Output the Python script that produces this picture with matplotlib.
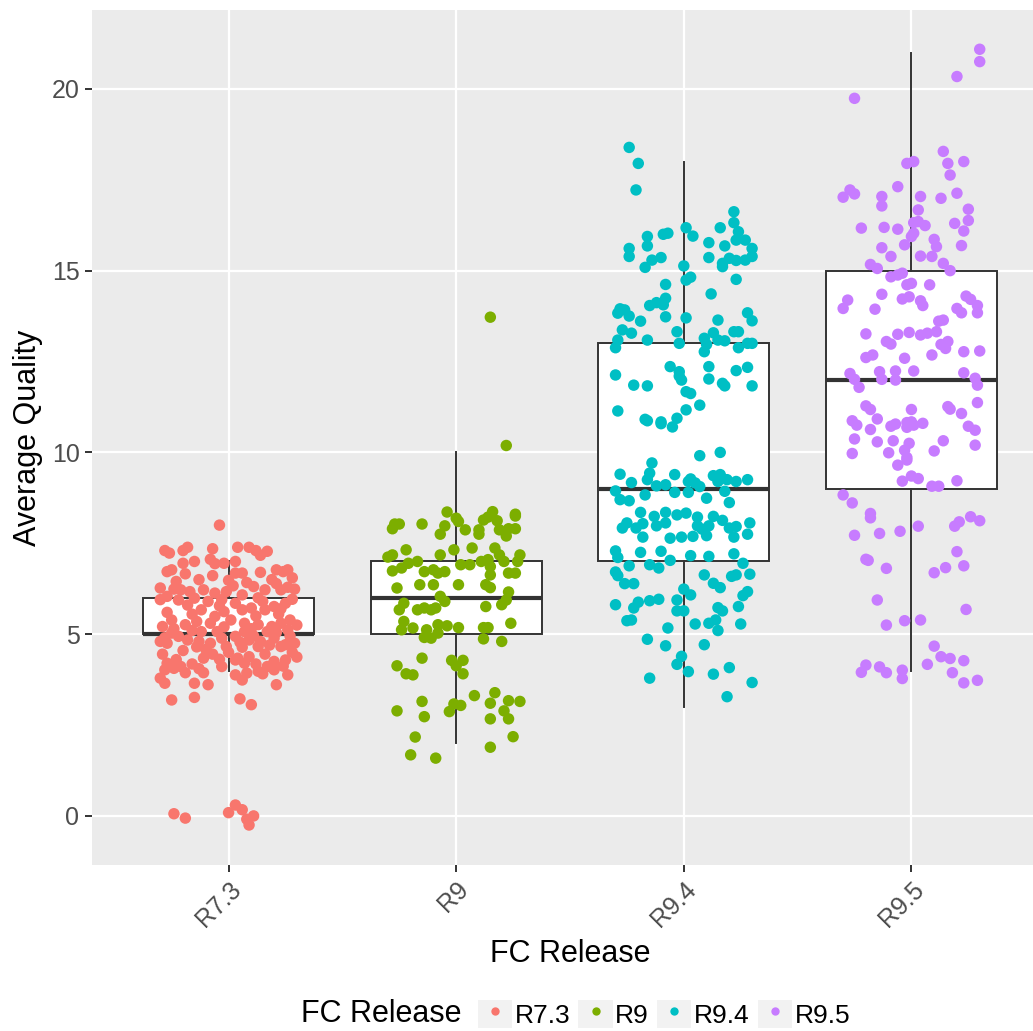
import numpy as np
import matplotlib
matplotlib.use("Agg")
from matplotlib import pyplot as plt
from matplotlib.patches import Rectangle
from matplotlib.lines import Line2D
from matplotlib.legend_handler import HandlerTuple

plt.rcParams["font.family"] = ["Liberation Sans", "DejaVu Sans"]

releases = ["R7.3", "R9", "R9.4", "R9.5"]
colors = ["#F8766D", "#7CAE00", "#00BFC4", "#C77CFF"]

# box statistics per release: lower whisker, Q1, median, Q3, upper whisker
whis_lo = [4, 2, 3, 4]
q1 = [5, 5, 7, 9]
median = [5, 6, 9, 12]
q3 = [6, 7, 13, 15]
whis_hi = [7, 10, 18, 21]

# jittered points: (horizontal jitter, average quality)
r73_points = [
    (-0.04, 8.00), (-0.28, 7.30), (-0.26, 7.23), (-0.20, 7.30), (-0.18, 7.39), (-0.07, 7.35),
    (0.04, 7.39), (0.09, 7.39), (0.12, 7.30), (0.14, 7.17), (0.17, 7.28),
    (-0.20, 6.95), (-0.15, 7.00), (-0.08, 7.06), (-0.06, 6.94), (-0.02, 6.95), (0.03, 7.00),
    (-0.27, 6.72), (-0.25, 6.77), (-0.19, 6.66), (-0.07, 6.61), (0.03, 6.68), (0.06, 6.68),
    (0.14, 6.70), (0.21, 6.77), (0.24, 6.72), (0.26, 6.77),
    (-0.23, 6.45), (-0.13, 6.50), (0.00, 6.48), (0.08, 6.42), (0.19, 6.50), (0.28, 6.55),
    (-0.30, 6.27), (-0.24, 6.24), (-0.21, 6.22), (-0.17, 6.17), (-0.11, 6.22), (-0.06, 6.13),
    (-0.01, 6.17), (0.02, 6.33), (0.06, 6.08), (0.11, 6.31), (0.16, 6.22), (0.21, 6.39),
    (0.23, 6.22), (0.26, 6.29), (0.29, 6.24),
    (-0.27, 6.04), (-0.22, 5.94), (-0.15, 5.99), (-0.09, 5.90), (-0.02, 5.62), (0.06, 5.67),
    (0.10, 5.72), (0.16, 5.67), (0.20, 5.76), (0.25, 5.85), (0.28, 5.96), (-0.12, 5.67), (-0.06, 5.49),
    (-0.16, 5.55), (0.12, 5.50), (-0.27, 5.60), (0.22, 5.55), (-0.03, 5.95), (0.13, 6.00),
    (-0.30, 5.95), (-0.18, 5.80), (-0.04, 5.78), (0.03, 5.85), (0.15, 5.90), (0.23, 5.70),
    (-0.29, 5.21), (-0.25, 5.39), (-0.19, 5.26), (-0.14, 5.35), (-0.08, 5.30), (0.01, 5.39),
    (0.07, 5.30), (0.13, 5.26), (0.19, 5.21), (0.23, 5.30), (0.27, 5.39),
    (-0.24, 5.15), (-0.16, 5.10), (-0.02, 5.20), (0.10, 5.15), (0.21, 5.05), (0.30, 5.25),
    (-0.30, 4.80), (-0.27, 4.75), (-0.22, 4.94), (-0.18, 4.84), (-0.13, 4.80), (-0.08, 4.75),
    (-0.03, 4.89), (0.03, 4.94), (0.09, 4.84), (0.14, 4.80), (0.20, 4.89), (0.25, 4.71), (0.29, 4.75),
    (-0.25, 5.03), (-0.12, 5.07), (-0.05, 5.07), (0.07, 5.07), (0.17, 5.07), (0.26, 5.12),
    (-0.01, 4.66), (0.06, 4.64), (0.13, 4.66), (0.23, 4.66),
    (-0.28, 4.90), (-0.14, 4.65), (0.05, 4.78), (0.11, 4.95), (0.18, 4.70), (0.27, 4.95),
    (-0.20, 4.55), (0.00, 4.50), (0.16, 4.45), (-0.10, 4.58), (0.28, 4.50), (-0.29, 4.45),
    (-0.27, 4.20), (-0.21, 4.11), (-0.16, 4.18), (-0.11, 4.34), (-0.04, 4.31), (0.03, 4.29),
    (0.07, 4.20), (0.12, 4.18), (0.17, 4.11), (0.20, 4.25), (0.25, 4.29), (0.30, 4.37),
    (-0.03, 4.11), (0.04, 4.34),
    (-0.23, 4.30), (-0.07, 4.45), (0.09, 4.38), (0.24, 4.12), (-0.13, 4.05), (0.13, 3.98),
    (-0.28, 4.02), (-0.24, 4.06), (-0.19, 3.94), (-0.30, 3.79), (-0.11, 3.94), (0.03, 3.88),
    (0.08, 3.93), (0.15, 3.91), (0.20, 4.02), (0.26, 3.88),
    (-0.28, 3.65), (-0.15, 3.65), (-0.09, 3.61), (0.06, 3.74), (0.21, 3.61),
    (-0.25, 3.19), (-0.15, 3.26), (0.05, 3.22), (0.10, 3.06),
    (-0.24, 0.06), (-0.19, -0.06), (0.00, 0.09), (0.03, 0.30), (0.06, 0.17), (0.11, 0.00),
    (0.09, -0.25), (0.08, -0.09),
]

r9_points = [
    (0.15, 13.72), (0.22, 10.19),
    (-0.04, 8.36), (0.00, 8.19), (0.01, 8.10), (-0.05, 7.98), (-0.07, 7.75), (-0.27, 8.03),
    (-0.25, 8.03), (-0.28, 7.90), (-0.15, 8.03), (0.04, 7.87), (0.12, 8.14), (0.14, 8.22),
    (0.16, 8.37), (0.18, 8.12), (0.10, 7.87), (0.10, 7.75), (0.19, 7.87), (0.23, 7.90),
    (0.22, 7.70), (0.26, 7.90), (0.26, 8.25), (0.26, 8.30),
    (-0.28, 7.18), (-0.22, 7.32), (-0.30, 7.12), (-0.07, 7.18), (-0.01, 7.32), (0.07, 7.37),
    (0.17, 7.37), (0.19, 7.18), (0.28, 7.18), (0.27, 7.00),
    (-0.28, 6.74), (-0.24, 6.82), (-0.21, 6.95), (-0.17, 7.00), (-0.14, 6.72), (-0.10, 6.77),
    (-0.08, 6.68), (-0.05, 6.72), (0.02, 6.91), (0.06, 6.91), (0.11, 7.00), (0.15, 6.86),
    (0.15, 6.63), (0.14, 7.05), (0.21, 7.00), (0.23, 6.68), (0.26, 6.68),
    (-0.26, 6.27), (-0.16, 6.36), (-0.10, 6.36), (0.01, 6.36), (0.13, 6.36), (0.15, 6.28),
    (0.23, 6.16), (-0.07, 6.04), (-0.05, 5.90), (-0.23, 5.85),
    (-0.25, 5.67), (-0.17, 5.67), (-0.14, 5.72), (-0.11, 5.67), (-0.09, 5.72), (0.13, 5.76),
    (0.20, 5.81), (0.22, 5.94),
    (-0.23, 5.35), (-0.24, 5.12), (-0.19, 5.17), (-0.13, 5.12), (-0.08, 5.26), (-0.08, 5.03),
    (-0.04, 5.23), (0.01, 5.18), (0.12, 5.18), (0.14, 5.18), (0.24, 5.30),
    (-0.14, 4.91), (-0.11, 4.89), (0.12, 4.87), (0.20, 4.80),
    (-0.15, 4.34), (-0.26, 4.13), (-0.02, 4.28), (0.00, 4.13), (0.03, 4.28), (0.03, 3.91),
    (-0.22, 3.91), (-0.19, 3.88),
    (0.08, 3.31), (0.17, 3.39), (0.15, 3.10), (0.23, 3.17), (0.28, 3.15), (0.21, 2.89),
    (0.23, 2.67), (0.15, 2.67), (-0.15, 3.15), (-0.26, 2.89), (-0.14, 2.73), (-0.03, 2.87),
    (-0.01, 3.08), (0.02, 3.04),
    (-0.18, 2.17), (0.25, 2.18), (0.15, 1.89), (-0.20, 1.68), (-0.09, 1.59),
]

r94_points = [
    (-0.24, 18.39), (-0.20, 17.95), (-0.21, 17.22), (0.22, 16.62), (0.22, 16.32), (0.24, 16.07),
    (0.16, 16.18), (0.01, 16.18), (0.04, 15.95), (-0.09, 16.00), (-0.07, 16.03), (-0.16, 15.94),
    (-0.16, 15.68), (-0.24, 15.61), (-0.24, 15.39), (-0.14, 15.29), (-0.10, 15.36), (-0.17, 15.09),
    (0.00, 15.13), (0.11, 15.77), (0.18, 15.68), (0.23, 15.84), (0.27, 15.84), (0.30, 15.61),
    (0.30, 15.39), (0.11, 15.36), (0.17, 15.20), (0.20, 15.34), (0.23, 15.28), (0.27, 15.29),
    (0.17, 15.11), (0.01, 14.74), (0.03, 14.82), (0.23, 14.76), (-0.08, 14.62), (0.12, 14.36),
    (-0.08, 14.24), (-0.09, 14.06), (-0.12, 14.12), (-0.15, 14.04), (-0.28, 13.95), (-0.26, 13.92),
    (-0.29, 13.83), (-0.24, 13.75), (-0.19, 13.61), (-0.08, 13.73), (0.01, 13.70), (0.15, 13.64),
    (0.28, 13.84), (0.30, 13.62), (-0.27, 13.37), (-0.23, 13.28), (-0.29, 13.09), (-0.30, 12.88),
    (-0.16, 13.09), (-0.03, 13.32), (-0.02, 13.00), (0.09, 13.14), (0.13, 13.29), (0.15, 13.09),
    (0.18, 13.07), (0.10, 12.97), (0.09, 12.77), (0.22, 13.32), (0.24, 13.32), (0.24, 12.88),
    (0.28, 13.00), (0.30, 13.00),
    (-0.30, 12.13), (-0.22, 11.85), (-0.16, 11.83), (-0.06, 12.36), (-0.02, 12.22), (-0.02, 12.10),
    (-0.01, 11.99), (0.01, 11.67), (0.03, 11.62), (0.11, 12.36), (0.11, 12.02), (0.17, 11.90),
    (0.18, 11.83), (0.23, 12.25), (0.28, 12.34), (0.30, 11.83),
    (-0.29, 11.14), (-0.17, 10.91), (-0.10, 10.84), (-0.03, 10.94), (0.01, 11.17), (0.07, 11.30),
    (-0.16, 10.87), (-0.10, 10.79), (-0.05, 10.70), (0.07, 9.91), (0.16, 10.00), (-0.14, 9.71),
    (-0.28, 9.40), (-0.23, 9.17), (-0.16, 9.25), (-0.15, 9.43), (-0.12, 9.08), (-0.08, 9.11),
    (-0.04, 9.39), (-0.04, 8.90), (0.02, 9.20), (0.03, 9.27), (0.05, 9.16), (0.07, 9.06),
    (0.02, 8.90), (0.13, 9.36), (0.16, 9.39), (0.15, 9.20), (0.19, 9.25), (0.23, 9.20),
    (0.28, 9.25), (0.18, 8.93),
    (-0.30, 8.94), (-0.28, 8.70), (-0.24, 8.67), (-0.17, 8.83), (0.10, 8.74), (0.20, 8.62),
    (-0.19, 8.35), (-0.13, 8.24), (-0.08, 8.35), (-0.03, 8.28), (0.01, 8.33), (0.06, 8.22),
    (0.13, 8.24), (0.17, 8.13), (-0.25, 8.06), (-0.21, 7.92), (-0.18, 8.04), (-0.12, 7.98),
    (-0.08, 8.06), (0.06, 7.98), (0.08, 7.89), (0.11, 7.98), (0.20, 7.92), (0.23, 7.96),
    (0.29, 8.06), (-0.27, 7.92), (-0.18, 7.67), (-0.06, 7.64), (-0.01, 7.67), (0.04, 7.69),
    (0.10, 7.71), (0.22, 7.67), (0.28, 7.75),
    (-0.30, 7.29), (-0.29, 7.11), (-0.19, 7.25), (-0.10, 7.28), (-0.06, 7.03), (0.03, 7.16),
    (0.11, 7.14), (0.22, 7.21), (-0.24, 6.88), (-0.15, 6.91), (-0.11, 6.82), (0.26, 6.95),
    (-0.30, 6.71), (-0.29, 6.61), (-0.26, 6.39), (-0.22, 6.39), (0.09, 6.63), (0.13, 6.40),
    (0.16, 6.28), (0.21, 6.59), (0.23, 6.63), (0.29, 6.65), (0.00, 6.24), (0.03, 6.08),
    (0.26, 6.06), (0.28, 6.17),
    (-0.30, 5.81), (-0.22, 5.72), (-0.20, 5.88), (-0.15, 5.92), (-0.11, 5.96), (-0.03, 5.94),
    (-0.03, 5.64), (0.00, 5.64), (0.15, 5.73), (0.17, 5.64), (0.24, 5.76),
    (-0.25, 5.37), (-0.23, 5.39), (-0.07, 5.17), (0.05, 5.28), (0.11, 5.30), (0.14, 5.39),
    (0.15, 5.10), (0.25, 5.28),
    (-0.16, 4.86), (-0.08, 4.68), (0.09, 4.71), (-0.01, 4.39), (-0.03, 4.17), (0.02, 3.97),
    (0.20, 4.08), (0.13, 3.90), (-0.15, 3.79), (0.30, 3.67), (0.19, 3.28),
]

r95_points = [
    (0.30, 21.09), (0.30, 20.75), (0.20, 20.34), (-0.25, 19.74),
    (0.14, 18.28), (0.16, 17.95), (0.23, 18.00), (-0.02, 17.95), (0.01, 18.00), (0.17, 17.63),
    (-0.06, 17.31), (-0.27, 17.22), (-0.30, 17.02), (-0.25, 17.11), (-0.13, 17.04), (-0.13, 16.78),
    (0.04, 17.04), (0.13, 16.99), (0.20, 17.13), (0.03, 16.67), (0.25, 16.69), (0.25, 16.38),
    (0.01, 16.32), (0.03, 16.35), (0.06, 16.24), (0.19, 16.30), (0.23, 16.09), (-0.22, 16.17),
    (-0.12, 16.19), (-0.06, 16.14), (0.00, 15.94), (0.01, 16.03), (0.10, 15.86), (0.11, 15.66),
    (0.22, 15.69), (-0.03, 15.71), (-0.13, 15.63), (-0.09, 15.39), (0.04, 15.40), (0.09, 15.39),
    (0.14, 15.20), (-0.18, 15.17), (-0.15, 15.06), (0.17, 15.00),
    (-0.09, 14.83), (-0.06, 14.88), (-0.04, 14.93), (-0.02, 14.61), (0.00, 14.65), (0.08, 14.61),
    (-0.13, 14.35), (-0.28, 14.19), (-0.30, 13.96), (-0.16, 13.94), (-0.04, 14.22), (-0.01, 14.28),
    (0.04, 14.17), (0.05, 14.04), (0.24, 14.30), (0.26, 14.21), (0.29, 14.04), (0.20, 13.96),
    (0.22, 13.84), (0.29, 13.84), (0.12, 13.61), (0.14, 13.64),
    (-0.20, 13.26), (-0.11, 13.05), (-0.09, 12.98), (-0.06, 13.25), (-0.01, 13.30), (0.04, 13.23),
    (0.07, 13.28), (0.11, 13.32), (0.13, 12.97), (0.15, 12.86), (0.16, 13.05), (0.23, 12.77),
    (0.30, 12.79), (-0.20, 12.61), (-0.17, 12.68), (-0.03, 12.59), (0.09, 12.68),
    (-0.27, 12.17), (-0.14, 12.22), (-0.07, 12.24), (0.01, 12.24), (0.23, 12.19), (-0.25, 12.01),
    (-0.13, 12.01), (-0.07, 11.99), (-0.23, 11.79), (0.28, 12.04), (0.29, 11.85), (0.29, 11.37),
    (-0.20, 11.28), (-0.18, 11.18), (0.00, 11.18), (0.16, 11.26), (0.17, 11.19), (0.22, 11.07),
    (-0.26, 10.87), (-0.24, 10.75), (-0.15, 10.92), (-0.18, 10.63), (-0.09, 10.72), (-0.07, 10.78),
    (-0.02, 10.82), (0.00, 10.84), (-0.02, 10.69), (0.01, 10.75), (0.05, 10.80), (0.25, 10.72),
    (0.28, 10.61), (-0.25, 10.37), (-0.15, 10.29), (-0.08, 10.32), (-0.01, 10.25), (0.14, 10.32),
    (0.28, 10.20), (-0.26, 9.97), (-0.10, 9.99), (-0.03, 10.06), (-0.02, 9.86), (-0.02, 9.79),
    (0.10, 10.04), (-0.06, 9.65), (-0.04, 9.21), (0.00, 9.35), (0.03, 9.28), (0.09, 9.07),
    (0.12, 9.07), (0.20, 9.22),
    (-0.30, 8.83), (-0.26, 8.61), (-0.18, 8.32), (-0.18, 8.20), (-0.25, 7.72), (-0.14, 7.77),
    (-0.05, 7.83), (0.03, 7.97), (0.19, 7.97), (0.21, 8.09), (0.26, 8.23), (0.30, 8.12),
    (0.20, 7.27), (-0.20, 7.06), (-0.19, 7.03), (-0.11, 6.81), (0.10, 6.69), (0.15, 6.83),
    (0.23, 6.88), (-0.15, 5.94), (0.24, 5.68), (-0.11, 5.25), (-0.03, 5.37), (0.04, 5.39),
    (0.10, 4.67), (0.13, 4.38), (0.17, 4.33), (0.23, 4.27), (0.07, 4.17), (0.18, 3.94),
    (0.23, 3.66), (0.29, 3.73), (-0.20, 4.15), (-0.22, 3.95), (-0.14, 4.10), (-0.11, 3.94),
    (-0.04, 4.01), (-0.04, 3.78),
]

all_points = [r73_points, r9_points, r94_points, r95_points]

fig = plt.figure(figsize=(10.33, 10.31), dpi=100)
# panel runs off the right edge of the image like the original
ax = fig.add_axes([92 / 1033, 1 - 865 / 1031, (1048 - 92) / 1033, (865 - 10) / 1031])
ax.set_facecolor("#EBEBEB")

positions = np.arange(1, len(releases) + 1)

stats = []
for i in range(len(releases)):
    stats.append({"whislo": whis_lo[i], "q1": q1[i], "med": median[i],
                  "q3": q3[i], "whishi": whis_hi[i], "fliers": []})

ax.bxp(stats, positions=positions, widths=0.75, patch_artist=True, showcaps=False,
       boxprops=dict(facecolor="white", edgecolor="#333333", linewidth=1.4),
       whiskerprops=dict(color="#333333", linewidth=1.4),
       medianprops=dict(color="#333333", linewidth=3.0, solid_capstyle="butt"),
       zorder=2)

for i, pts in enumerate(all_points):
    arr = np.array(pts)
    ax.scatter(positions[i] + arr[:, 0], arr[:, 1], s=68, color=colors[i],
               edgecolors="none", zorder=3)

ax.set_xlim(0.4, 4.6)
ax.set_ylim(-1.35, 22.17)
ax.set_xticks(positions)
ax.set_xticklabels(releases, rotation=45, ha="right", va="top", rotation_mode="anchor")
ax.set_yticks([0, 5, 10, 15, 20])

ax.grid(True, color="white", linewidth=1.6)
ax.set_axisbelow(True)
for s in ax.spines.values():
    s.set_visible(False)
ax.tick_params(axis="both", colors="#333333", length=5, width=1.4, labelsize=18,
               labelcolor="#4D4D4D", pad=4)

ax.set_xlabel("FC Release", fontsize=22, labelpad=5)
ax.set_ylabel("Average Quality", fontsize=22, labelpad=6)

# legend at the bottom, title on the left like ggplot
handles = []
for c in colors:
    key = Rectangle((0, 0), 1, 1, facecolor="#F2F2F2", edgecolor="none")
    dot = Line2D([], [], marker="o", linestyle="none", markersize=6,
                 markerfacecolor=c, markeredgecolor="none")
    handles.append((key, dot))

fig.legend(handles, releases, loc="center", bbox_to_anchor=(664 / 1033, 1 - 1014 / 1031),
           ncol=4, frameon=False, fontsize=19, handler_map={tuple: HandlerTuple(ndivide=1)},
           handlelength=1.3, handleheight=1.3, handletextpad=0.1, columnspacing=0.3,
           borderpad=0, borderaxespad=0)
fig.text(301 / 1033, 1 - 1014 / 1031, "FC Release", fontsize=22, ha="left", va="center")

fig.savefig("out.png", dpi=100)
